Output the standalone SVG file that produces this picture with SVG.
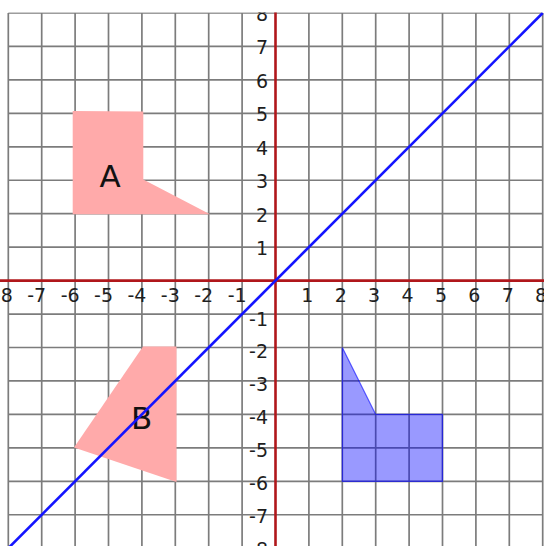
<svg xmlns="http://www.w3.org/2000/svg" width="544" height="546" viewBox="0 0 544 546">
<style>
.grid line{stroke:#7c7c7c;stroke-width:1.7}
.axis{stroke:#b0171b;stroke-width:2.6}
.lbl{font-family:"DejaVu Sans",Verdana,sans-serif;font-size:19px;fill:#1e1e1e}
.xl{text-anchor:end}
.yl{text-anchor:end}
.big{font-family:"DejaVu Sans",Verdana,sans-serif;font-size:31px;fill:#111;text-anchor:middle}
.pink{fill:#ffaaaa}
.blueshape{fill:#0000ff;fill-opacity:0.4;stroke:#0000ff;stroke-opacity:0.6;stroke-width:1.2}
.mirror{stroke:#1414ff;stroke-width:2.6;fill:none}
</style>
<defs>
<clipPath id="c"><rect x="0" y="12.5" width="544" height="534"/></clipPath>
</defs>
<rect width="544" height="546" fill="#fff"/>
<g clip-path="url(#c)">
<g id="grid" class="grid">
<line x1="8.3" y1="13" x2="8.3" y2="546"/>
<line x1="41.7" y1="13" x2="41.7" y2="546"/>
<line x1="75.1" y1="13" x2="75.1" y2="546"/>
<line x1="108.5" y1="13" x2="108.5" y2="546"/>
<line x1="141.9" y1="13" x2="141.9" y2="546"/>
<line x1="175.3" y1="13" x2="175.3" y2="546"/>
<line x1="208.7" y1="13" x2="208.7" y2="546"/>
<line x1="242.1" y1="13" x2="242.1" y2="546"/>
<line x1="308.9" y1="13" x2="308.9" y2="546"/>
<line x1="342.3" y1="13" x2="342.3" y2="546"/>
<line x1="375.7" y1="13" x2="375.7" y2="546"/>
<line x1="409.1" y1="13" x2="409.1" y2="546"/>
<line x1="442.5" y1="13" x2="442.5" y2="546"/>
<line x1="475.9" y1="13" x2="475.9" y2="546"/>
<line x1="509.3" y1="13" x2="509.3" y2="546"/>
<line x1="542.7" y1="13" x2="542.7" y2="546"/>
<line x1="8.3" y1="13" x2="542.7" y2="13"/>
<line x1="8.3" y1="46.45" x2="542.7" y2="46.45"/>
<line x1="8.3" y1="79.9" x2="542.7" y2="79.9"/>
<line x1="8.3" y1="113.35" x2="542.7" y2="113.35"/>
<line x1="8.3" y1="146.8" x2="542.7" y2="146.8"/>
<line x1="8.3" y1="180.25" x2="542.7" y2="180.25"/>
<line x1="8.3" y1="213.7" x2="542.7" y2="213.7"/>
<line x1="8.3" y1="247.15" x2="542.7" y2="247.15"/>
<line x1="8.3" y1="314.05" x2="542.7" y2="314.05"/>
<line x1="8.3" y1="347.5" x2="542.7" y2="347.5"/>
<line x1="8.3" y1="380.95" x2="542.7" y2="380.95"/>
<line x1="8.3" y1="414.4" x2="542.7" y2="414.4"/>
<line x1="8.3" y1="447.85" x2="542.7" y2="447.85"/>
<line x1="8.3" y1="481.3" x2="542.7" y2="481.3"/>
<line x1="8.3" y1="514.75" x2="542.7" y2="514.75"/>
</g>
<g id="shapeA">
<polygon class="pink" points="72.7,111 143.3,111.5 143.3,179.5 210,214.2 72.7,214.2"/>
<text class="big" x="110" y="187">A</text>
</g>
<g id="shapeB">
<polygon class="pink" points="143,346.5 176.5,346.5 176.5,482 74,447.5"/>
<text class="big" x="141.7" y="429">B</text>
</g>
<g id="image">
<polygon class="blueshape" points="342.3,347.5 375.7,414.4 442.5,414.4 442.5,481.3 342.3,481.3"/>
</g>
<g id="axes">
<line class="axis" x1="0" y1="280.6" x2="544" y2="280.6"/>
<line class="axis" x1="275.5" y1="0" x2="275.5" y2="546"/>
</g>
<g id="xlabels" class="lbl xl">
<text x="12.8" y="302">-8</text>
<text x="46.2" y="302">-7</text>
<text x="79.6" y="302">-6</text>
<text x="113" y="302">-5</text>
<text x="146.4" y="302">-4</text>
<text x="179.8" y="302">-3</text>
<text x="213.2" y="302">-2</text>
<text x="246.6" y="302">-1</text>
<text x="313.4" y="302">1</text>
<text x="346.8" y="302">2</text>
<text x="380.2" y="302">3</text>
<text x="413.6" y="302">4</text>
<text x="447" y="302">5</text>
<text x="480.4" y="302">6</text>
<text x="513.8" y="302">7</text>
<text x="547.2" y="302">8</text>
</g>
<g id="ylabels" class="lbl yl">
<text x="268" y="21">8</text>
<text x="268" y="54">7</text>
<text x="268" y="87.5">6</text>
<text x="268" y="121">5</text>
<text x="268" y="154.5">4</text>
<text x="268" y="188">3</text>
<text x="268" y="221.5">2</text>
<text x="268" y="255">1</text>
<text x="268" y="325.5">-1</text>
<text x="268" y="358">-2</text>
<text x="268" y="390.5">-3</text>
<text x="268" y="424">-4</text>
<text x="268" y="457">-5</text>
<text x="268" y="490">-6</text>
<text x="268" y="522.5">-7</text>
<text x="268" y="555.5">-8</text>
</g>
<g id="connectors">
<line class="mirror" x1="8.3" y1="548.2" x2="542.7" y2="13"/>
</g>
</g>
</svg>
